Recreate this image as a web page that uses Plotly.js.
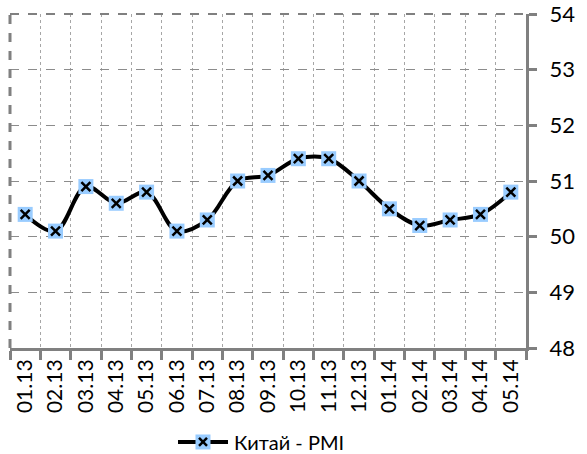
<!DOCTYPE html>
<html>
<head>
<meta charset="utf-8">
<script src="https://cdn.plot.ly/plotly-3.0.1.min.js"></script>
<style>html,body{margin:0;padding:0;background:#fff;}#chart{width:587px;height:454px;}</style>
</head>
<body>
<div id="chart"></div>
<script>
const months = ["01.13","02.13","03.13","04.13","05.13","06.13","07.13","08.13","09.13","10.13","11.13","12.13","01.14","02.14","03.14","04.14","05.14"];
const pmi = [50.4,50.1,50.9,50.6,50.8,50.1,50.3,51.0,51.1,51.4,51.4,51.0,50.5,50.2,50.3,50.4,50.8];
const seriesName = "Китай - PMI";
const yTicks = [48,49,50,51,52,53,54];

const gray = "#808080";
const fontFam = "Lato, 'Open Sans', sans-serif";
const legY = -0.2814;

const traces = [
  {x: months, y: pmi, type: "scatter", mode: "lines+markers",
   line: {color: "#000", width: 4, shape: "spline", smoothing: 1},
   marker: {symbol: "square", size: 15, color: "#99CCFF", line: {width: 0}},
   showlegend: false, hoverinfo: "x+y"},
  {x: months, y: pmi, type: "scatter", mode: "markers",
   marker: {symbol: "x-thin", size: 9, color: "#000", line: {width: 2.5, color: "#000"}},
   showlegend: false, hoverinfo: "skip"}
];

const layout = {
  width: 587, height: 454,
  margin: {l: 10, r: 61, t: 14, b: 106},
  paper_bgcolor: "#fff", plot_bgcolor: "#fff",
  font: {family: fontFam, size: 21, color: "#000"},
  showlegend: false,
  xaxis: {
    type: "category", range: [-0.5, 16.5], tickson: "boundaries",
    tickangle: -90, tickfont: {family: fontFam, size: 21, color: "#000"},
    showline: true, linecolor: gray, linewidth: 3,
    ticks: "outside", ticklen: 9, tickwidth: 3, tickcolor: gray,
    showgrid: true, gridcolor: "#a6a6a6", griddash: "dot", gridwidth: 1,
    zeroline: false, fixedrange: true
  },
  yaxis: {
    side: "right", range: [48, 54], tickvals: yTicks, ticktext: yTicks.map(String),
    tickfont: {family: fontFam, size: 22, color: "#000"},
    showline: true, linecolor: gray, linewidth: 3,
    ticks: "outside", ticklen: 8, tickwidth: 3, tickcolor: gray,
    ticklabelstandoff: 8, ticklabeloverflow: "allow",
    showgrid: true, gridcolor: "#8c8c8c", griddash: "dash", gridwidth: 1,
    zeroline: false, fixedrange: true
  },
  shapes: [
    {type: "line", xref: "paper", yref: "paper", x0: 0, x1: 0, y0: 0, y1: 1,
     line: {color: gray, width: 3, dash: "dash"}},
    {type: "line", xref: "paper", yref: "paper", x0: 0, x1: 1, y0: 1, y1: 1,
     line: {color: gray, width: 2, dash: "dash"}},
    // legend line
    {type: "line", xref: "paper", yref: "paper", xsizemode: "pixel", ysizemode: "pixel",
     xanchor: 0.3256, yanchor: legY, x0: 0, x1: 50, y0: 0, y1: 0,
     line: {color: "#000", width: 4}},
    // legend square
    {type: "rect", xref: "paper", yref: "paper", xsizemode: "pixel", ysizemode: "pixel",
     xanchor: 0.3740, yanchor: legY, x0: -7.5, x1: 7.5, y0: -7.5, y1: 7.5,
     fillcolor: "#99CCFF", line: {width: 0}},
    // legend x
    {type: "line", xref: "paper", yref: "paper", xsizemode: "pixel", ysizemode: "pixel",
     xanchor: 0.3740, yanchor: legY, x0: -4, x1: 4, y0: -4, y1: 4,
     line: {color: "#000", width: 2.5}},
    {type: "line", xref: "paper", yref: "paper", xsizemode: "pixel", ysizemode: "pixel",
     xanchor: 0.3740, yanchor: legY, x0: -4, x1: 4, y0: 4, y1: -4,
     line: {color: "#000", width: 2.5}}
  ],
  annotations: [
    {text: seriesName, xref: "paper", yref: "paper", x: 0.4322, y: legY,
     xanchor: "left", yanchor: "middle", showarrow: false, borderpad: 0,
     font: {family: fontFam, size: 20, color: "#000"}}
  ]
};

Plotly.newPlot("chart", traces, layout, {displayModeBar: false, staticPlot: true});
</script>
</body>
</html>
